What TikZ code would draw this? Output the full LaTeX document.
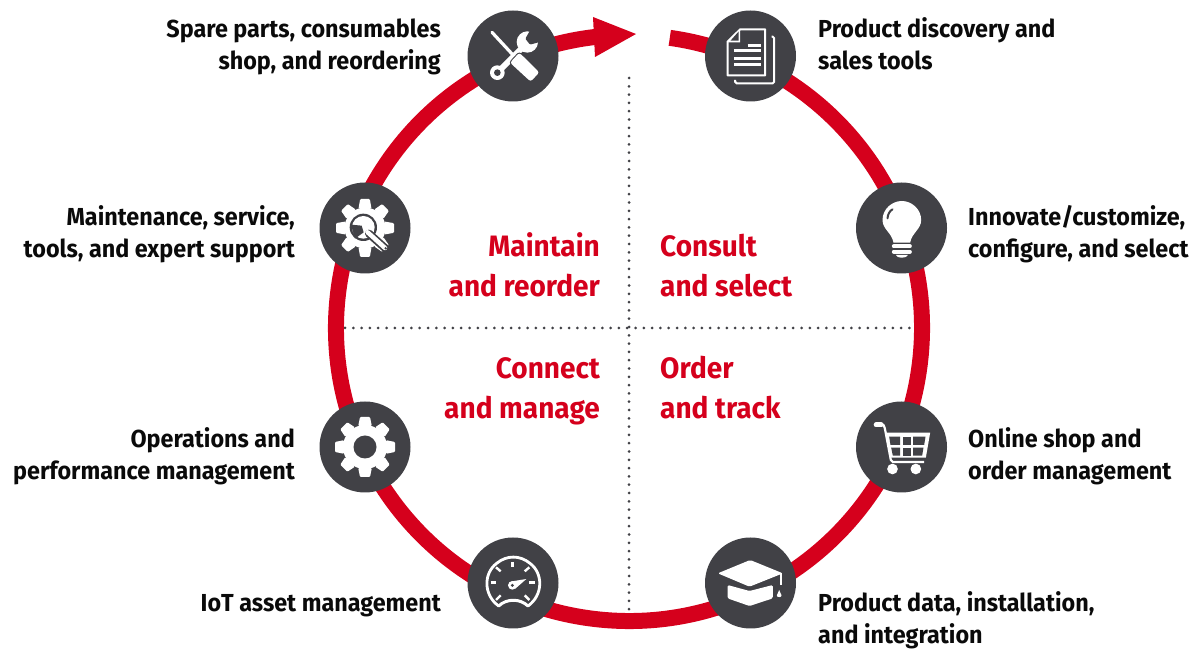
\documentclass[tikz,border=0pt]{standalone}
\usepackage{fontspec}
\setmainfont[FakeStretch=0.95]{Fira Sans}
\usetikzlibrary{calc}
\definecolor{pred}{HTML}{D5001C}
\definecolor{pdark}{HTML}{414146}
\tikzset{
  x=1pt,y=1pt,
  hub/.style={circle,fill=pdark,minimum size=91pt,inner sep=0pt},
  ring/.style={draw=pred,line width=16pt},
  dots/.style={draw=pdark,line width=3pt,line cap=round,dash pattern=on 0pt off 8.3pt},
  lab/.style={inner sep=0pt,text=black!85!pdark,font=\fontsize{24.6}{32}\selectfont\bfseries},
  labr/.style={lab,align=right,anchor=base east},
  labl/.style={lab,align=left,anchor=base west},
  head/.style={inner sep=0pt,text=pred,font=\fontsize{29.5}{39.5}\selectfont\bfseries},
  headr/.style={head,align=right,anchor=base east},
  headl/.style={head,align=left,anchor=base west},
  icon/.style={x=.33333pt,y=-.33333pt},
}
\newcommand{\gearshape}[6]{% colour, n, root r, outer r, half base, half tip
  \fill[#1] (0,0) circle[radius=#3];
  \foreach \ang in {1,...,#2}{
    \fill[#1,rounded corners=1pt,rotate=\ang*360/#2] (#3-1,-#5) -- (#4,-#6) -- (#4,#6) -- (#3-1,#5) -- cycle;
  }
}
\begin{document}
\begin{tikzpicture}[x=1pt,y=1pt]
\useasboundingbox (0,0) rectangle (1196,650);
\coordinate (c) at (629,322);
% dotted axes
\coordinate (vt) at (629,572);
\coordinate (vb) at (629,40);
\coordinate (hl) at (345,322);
\coordinate (hr) at (913,322);
\draw[dots] (vt) -- (vb);
\draw[dots] (hl) -- (hr);
% ring with arrow
\coordinate (rs) at ($(c)+(82:293)$);
\coordinate (re) at ($(c)+(96.5:293)$);
\draw[ring] (rs) arc[start angle=82,end angle=-263.5,radius=293];
\coordinate (tip) at (636,616);
\coordinate (ha) at (593,633);
\coordinate (hb) at (595,593);
\fill[pred] (tip) -- (ha) -- (hb) -- cycle;
% hubs
\node[hub] (tools) at (513,594) {};
\node[hub] (doc) at (750.5,594) {};
\node[hub] (bulb) at (901.5,422) {};
\node[hub] (cart) at (901.5,203) {};
\node[hub] (grad) at (750.5,67) {};
\node[hub] (iot) at (513,67) {};
\node[hub] (gear) at (365,203) {};
\node[hub] (wgear) at (365,422) {};
% tools icon
\begin{scope}[shift={(tools.center)},icon,shift={(-99,-102)}]
  \draw[white,line width=6pt] (52,152) -- (132,72);
  \fill[white] (142,60) circle[radius=32];
  \fill[pdark,rounded corners=1pt] (152,22) -- (136,50) -- (150,68) -- (186,58) -- (195,22) -- cycle;
  \fill[white] (52,152) circle[radius=22];
  \fill[pdark] (52,152) circle[radius=10];
  \draw[white,line width=3.2pt,line cap=round] (36,31) -- (100,100);
  \draw[pdark,line width=3pt,rounded corners=2pt] (118,94) -- (145,120) -- (120,150) -- (92,122) -- cycle;
  \fill[white,rounded corners=2.5pt] (118,92) -- (178,151) -- (152,179) -- (90,122) -- cycle;
\end{scope}
% document icon
\begin{scope}[shift={(doc.center)},icon,shift={(-871,-168)}]
  \draw[white,line width=2pt,line join=round] (840,88) -- (915,88) -- (915,226) -- (802,226) -- (802,125) -- cycle;
  \fill[white] (840,88) -- (840,127) -- (802,127) -- cycle;
  \fill[pdark] (835,95) -- (835,122) -- (811,122) -- cycle;
  \draw[white,line width=2pt,rounded corners=1.5pt] (934,110) -- (942,110) -- (942,250) -- (825,250) -- (825,240);
  \draw[white,line width=3pt] (862,136) -- (903,136);
  \draw[white,line width=3pt] (822,152) -- (903,152);
  \draw[white,line width=3pt] (822,175) -- (903,175);
  \draw[white,line width=3pt] (822,193) -- (903,193);
\end{scope}
% bulb icon
\begin{scope}[shift={(bulb.center)},icon,shift={(-154,-146)}]
  \fill[white] (97,122) .. controls (97,90) and (125,65) .. (155,65)
     .. controls (185,65) and (213,90) .. (213,122)
     .. controls (213,150) and (185,160) .. (180,190)
     -- (130,190) .. controls (125,160) and (97,150) .. (97,122) -- cycle;
  \draw[pdark,line width=2pt,line cap=round] (112,117) .. controls (113,105) and (118,95) .. (127,90);
  \draw[white,line width=4pt,line cap=round] (131,201) -- (179,201);
  \draw[white,line width=4pt,line cap=round] (131,217) -- (179,217);
  \fill[white] (137,227) -- (173,227) .. controls (170,238) and (140,238) .. (137,227) -- cycle;
\end{scope}
% cart icon
\begin{scope}[shift={(cart.center)},icon,shift={(-154,-156)}]
  \draw[white,line width=5pt,line cap=round] (78,90) -- (93,90);
  \draw[white,line width=2.2pt,line join=round] (93,87) .. controls (100,87) and (102,92) .. (104,100) -- (122,195) -- (128,201) -- (222,201);
  \fill[white] (109,113) -- (240,113) -- (227,188) -- (119,188) -- cycle;
  \fill[pdark] (117,125) -- (150,125) -- (150,150) -- (121,150) -- cycle;
  \fill[pdark] (157,125) -- (181,125) -- (181,150) -- (157,150) -- cycle;
  \fill[pdark] (189,125) -- (226,125) -- (222,150) -- (189,150) -- cycle;
  \fill[pdark] (123,158) -- (150,158) -- (150,182) -- (128,182) -- cycle;
  \fill[pdark] (157,158) -- (181,158) -- (181,182) -- (157,182) -- cycle;
  \fill[pdark] (189,158) -- (220,158) -- (216,182) -- (189,182) -- cycle;
  \fill[white] (127,222) circle[radius=16];
  \fill[white] (197,222) circle[radius=16];
\end{scope}
% graduation cap icon
\begin{scope}[shift={(grad.center)},icon,shift={(-871,-159)}]
  \fill[white,rounded corners=1.5pt] (773,130) -- (870,90) -- (968,130) -- (868,170) -- cycle;
  \fill[white,rounded corners=1.5pt] (802,165) -- (868,183) -- (938,165) -- (938,205) -- (868,228) -- (802,205) -- cycle;
  \draw[white,line width=1.6pt] (962,130) -- (962,165);
  \fill[white] (957,180) -- (964,196) .. controls (966,203) and (948,203) .. (950,196) -- cycle;
\end{scope}
% gauge icon
\begin{scope}[shift={(iot.center)},icon,shift={(-159,-159)}]
  \draw[white,line width=2.8pt] (116,228) .. controls (70,195) and (70,130) .. (110,100)
     .. controls (140,75) and (180,75) .. (210,100)
     .. controls (250,130) and (250,195) .. (204,228);
  \draw[white,line width=3pt,line cap=round,line join=round] (116,228) .. controls (140,205) and (180,205) .. (204,228);
  \draw[white,line width=2.4pt] (158,97) -- (158,111);
  \draw[white,line width=2.4pt] (108,112) -- (122,124);
  \draw[white,line width=2.4pt] (208,112) -- (194,124);
  \draw[white,line width=2.4pt] (92,157) -- (108,157);
  \draw[white,line width=2.4pt] (224,157) -- (208,157);
  \draw[white,line width=2.4pt] (108,210) -- (122,196);
  \draw[white,line width=2.4pt] (208,210) -- (194,196);
  \fill[white] (156,154) -- (199,147) -- (166,176) -- cycle;
  \fill[white] (157,166) circle[radius=13];
  \fill[pdark] (157,166) circle[radius=5];
\end{scope}
% plain gear icon
\begin{scope}[shift={(gear.center)}]
  \gearshape{white}{8}{22}{30}{6.8}{5}
  \fill[pdark] (0,0) circle[radius=11.5];
\end{scope}
% gear and wrench icon
\begin{scope}[shift={(wgear.center)}]
  \gearshape{white}{8}{20.5}{29}{6.5}{4.8}
  \begin{scope}[icon,shift={(-90,-90)}]
    \fill[pdark] (85,88) circle[radius=41];
    \fill[white] (85,88) circle[radius=34];
    \fill[pdark] (48,80) -- (80,83) -- (86,103) -- (60,122) -- cycle;
    \draw[pdark,line width=8pt,line cap=round] (102,107) -- (151,151);
    \draw[white,line width=4.5pt,line cap=round] (98,103) -- (150,150);
    \fill[pdark] (152,151) circle[radius=4];
  \end{scope}
\end{scope}
% side labels (anchored at the baseline of the last line)
\node[labr] (l1) at (441,580) {Spare parts, consumables\\shop, and reordering};
\node[labl] (l2) at (818,580) {Product discovery and\\sales tools};
\node[labr] (l3) at (295,392) {Maintenance, service,\\tools, and expert support};
\node[labl] (l4) at (968,392) {Innovate/customize,\\configure, and select};
\node[labr] (l5) at (295,170) {Operations and\\performance management};
\node[labl] (l6) at (968,170) {Online shop and\\order management};
\node[labr] (l7) at (441,38) {IoT asset management};
\node[labl] (l8) at (818,6) {Product data, installation,\\and integration};
% quadrant heads
\node[headr] (q1) at (600,353.5) {Maintain\\and reorder};
\node[headl] (q2) at (660,353.5) {Consult\\and select};
\node[headr] (q3) at (600,231.5) {Connect\\and manage};
\node[headl] (q4) at (660,231.5) {Order\\and track};
\end{tikzpicture}
\end{document}
